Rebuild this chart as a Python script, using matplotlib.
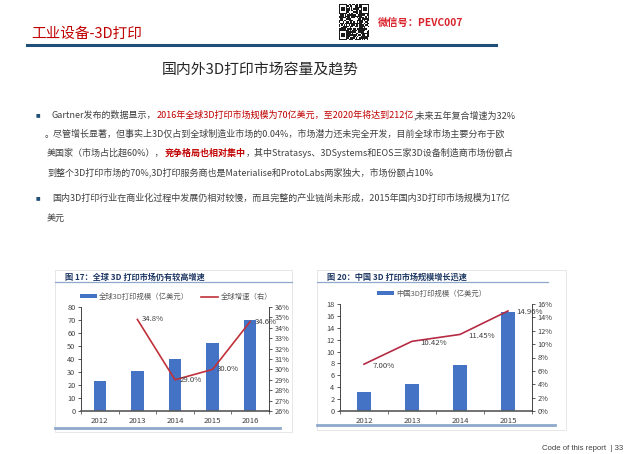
import numpy as np
import matplotlib
matplotlib.use("Agg")
import matplotlib.pyplot as plt
from matplotlib.patches import Rectangle
from matplotlib.lines import Line2D

plt.rcParams['font.family'] = ['Noto Sans CJK SC', 'DejaVu Sans']
FONT = ['Noto Sans CJK SC', 'DejaVu Sans']

# ---- data ----
years_global = ['2012', '2013', '2014', '2015', '2016']
global_size = [23, 31, 40, 52, 70]          # 亿美元
global_growth = [34.8, 29.0, 30.0, 34.6]    # %, 2013-2016
years_cn = ['2012', '2013', '2014', '2015']
cn_size = [3.2, 4.6, 7.7, 16.6]             # 亿美元
cn_rate = [7.00, 10.42, 11.45, 14.96]       # %

BLUE = '#4472C4'
RED = '#C0313A'
GRAY = '#404040'
TXTRED = '#C00000'
NAVY = '#1F3864'

W, H = 640, 454
fig = plt.figure(figsize=(6.4, 4.54), dpi=100)
fig.patch.set_facecolor('white')
renderer = fig.canvas.get_renderer()


def fx(x):
    return x / W


def fy(y):
    return 1 - y / H


def box(x0, y0, x1, y1):
    # pixel box -> [left, bottom, width, height] in figure coords
    return [fx(x0), fy(y1), (x1 - x0) / W, (y1 - y0) / H]


def hline(x0, x1, y, color, lw):
    fig.add_artist(Line2D([fx(x0), fx(x1)], [fy(y), fy(y)], color=color, lw=lw,
                          transform=fig.transFigure))


def rich_line(x, y, parts, size=6.5):
    for s, color, weight in parts:
        t = fig.text(fx(x), fy(y), s, color=color, fontsize=size, fontweight=weight,
                     va='center', ha='left', family=FONT)
        x += t.get_window_extent(renderer).width


# ---- header ----
fig.text(fx(31), fy(34), '工业设备-3D打印', color=TXTRED, fontsize=10.5, va='center', ha='left')
fig.text(fx(378), fy(23), '微信号：PEVC007', color='#D9232D', fontsize=7.4,
         fontweight='bold', va='center', ha='left')
hline(27, 496, 45, '#1F4E79', 2.2)

# qr-like decoration
qax = fig.add_axes(box(339, 4, 369, 40))
n = 25
ii, jj = np.meshgrid(np.arange(n), np.arange(n), indexing='ij')
qr = (((ii * 7 + jj * 13) ^ (ii * jj)) % 3 != 1).astype(float)
for (r, c) in [(0, 0), (0, n - 7), (n - 7, 0)]:
    qr[r:r + 7, c:c + 7] = 1
    qr[r + 1:r + 6, c + 1:c + 6] = 0
    qr[r + 2:r + 5, c + 2:c + 5] = 1
qax.imshow(qr, cmap='Greys', interpolation='nearest', vmin=0, vmax=1.1, aspect='auto')
qax.axis('off')

# ---- slide title ----
fig.text(fx(260), fy(70), '国内外3D打印市场容量及趋势', color='#262626', fontsize=10.7,
         ha='center', va='center')

# ---- bullet text ----
for by in (115, 198):
    fig.text(fx(38), fy(by), '■', fontsize=3.5, color='#1F4E79', ha='center', va='center',
             family='DejaVu Sans')

rich_line(52, 115, [('Gartner发布的数据显示，', GRAY, 'normal'),
                    ('2016年全球3D打印市场规模为70亿美元，至2020年将达到212亿', TXTRED, 'normal'),
                    (',未来五年复合增速为32%', GRAY, 'normal')])
rich_line(45, 134, [('。尽管增长显著，但事实上3D仅占到全球制造业市场的0.04%，市场潜力还未完全开发，目前全球市场主要分布于欧',
                     GRAY, 'normal')])
rich_line(47, 153, [('美国家（市场占比超60%），', GRAY, 'normal'),
                    ('竞争格局也相对集中', TXTRED, 'bold'),
                    ('，其中Stratasys、3DSystems和EOS三家3D设备制造商市场份额占', GRAY, 'normal')])
rich_line(47, 172, [('到整个3D打印市场的70%,3D打印服务商也是Materialise和ProtoLabs两家独大，市场份额占10%',
                     GRAY, 'normal')])
rich_line(52, 198, [('国内3D打印行业在商业化过程中发展仍相对较慢，而且完整的产业链尚未形成，2015年国内3D打印市场规模为17亿',
                     GRAY, 'normal')])
rich_line(47, 218, [('美元', GRAY, 'normal')])


# ---- chart panels ----
def panel(x0, y0, x1, y1, title, uline_end, bottom_y, bottom_end):
    fig.add_artist(Rectangle((fx(x0), fy(y1)), (x1 - x0) / W, (y1 - y0) / H,
                             transform=fig.transFigure, fill=False, ec='#E3E3E3', lw=0.6))
    fig.text(fx(x0 + 10), fy(277), title, color=NAVY, fontsize=5.9, fontweight='bold',
             ha='left', va='center')
    hline(x0, uline_end, 282, '#8EA9CC', 0.9)
    hline(x0, bottom_end, bottom_y, '#8EA9CC', 2.0)


def style_axes(ax, ax2, ncat):
    for a in (ax, ax2):
        a.spines['top'].set_visible(False)
        a.tick_params(axis='y', labelsize=5.3, colors=GRAY, length=2.5, width=0.6, pad=1.5)
    ax.spines['right'].set_visible(False)
    ax2.spines['left'].set_visible(False)
    ax.spines['left'].set_color('#262626')
    ax.spines['left'].set_linewidth(0.6)
    ax2.spines['right'].set_color('#262626')
    ax2.spines['right'].set_linewidth(0.6)
    ax.spines['bottom'].set_color('#595959')
    ax.spines['bottom'].set_linewidth(1.2)
    ax2.spines['bottom'].set_visible(False)
    ax.set_xlim(-0.5, ncat - 0.5)
    ax.set_xticks(np.arange(-0.5, ncat, 1.0), minor=True)
    ax.tick_params(axis='x', which='major', length=0, labelsize=5.6, colors=GRAY, pad=4)
    ax.tick_params(axis='x', which='minor', length=2.5, width=0.6, color='#595959')


panel(55, 270, 292, 432, '图 17：全球 3D 打印市场仍有较高增速', 292, 428, 280)
panel(317, 270, 566, 430, '图 20：中国 3D 打印市场规模增长迅速', 548, 425, 555)

# left chart
ax1 = fig.add_axes(box(81, 307, 269, 411))
x1 = np.arange(len(years_global))
bars1 = ax1.bar(x1, global_size, width=0.33, color=BLUE, zorder=2)
ax1.set_ylim(0, 80)
ax1.set_yticks(np.arange(0, 81, 10))
ax1.set_xticks(x1)
ax1.set_xticklabels(years_global)
ax1b = ax1.twinx()
ax1b.plot(x1[1:], global_growth, color=RED, lw=1.2, zorder=3)
ax1b.set_ylim(26, 36)
ax1b.set_yticks(np.arange(26, 37, 1))
ax1b.set_yticklabels([f'{v}%' for v in range(26, 37)])
for xi, v in zip(x1[1:], global_growth):
    ax1b.annotate(f'{v:.1f}%', (xi, v), xytext=(3, 0), textcoords='offset points',
                  fontsize=5.6, color=GRAY, va='center', ha='left')
style_axes(ax1, ax1b, len(years_global))
leg1 = ax1.legend([bars1, Line2D([], [], color=RED, lw=1.2)],
                  ['全球3D打印规模（亿美元）', '全球增速（右）'],
                  loc='center', bbox_to_anchor=(fx(176), fy(297)), bbox_transform=fig.transFigure,
                  ncol=2, frameon=False, fontsize=5.3, handlelength=2.3, handleheight=0.5,
                  columnspacing=1.6, handletextpad=0.3, borderpad=0)
for t in leg1.get_texts():
    t.set_color('#595959')

# right chart
ax2 = fig.add_axes(box(340, 304, 532, 411))
x2 = np.arange(len(years_cn))
bars2 = ax2.bar(x2, cn_size, width=0.31, color=BLUE, zorder=2)
ax2.set_ylim(0, 18)
ax2.set_yticks(np.arange(0, 19, 2))
ax2.set_xticks(x2)
ax2.set_xticklabels(years_cn)
ax2b = ax2.twinx()
ax2b.plot(x2, cn_rate, color='#B52B44', lw=1.2, zorder=3)
ax2b.set_ylim(0, 16)
ax2b.set_yticks(np.arange(0, 17, 2))
ax2b.set_yticklabels([f'{v}%' for v in range(0, 17, 2)])
for xi, v in zip(x2, cn_rate):
    ax2b.annotate(f'{v:.2f}%', (xi, v), xytext=(6, -1), textcoords='offset points',
                  fontsize=5.6, color=GRAY, va='center', ha='left')
style_axes(ax2, ax2b, len(years_cn))
leg2 = ax2.legend([bars2], ['中国3D打印规模（亿美元）'],
                  loc='center', bbox_to_anchor=(fx(432), fy(294)), bbox_transform=fig.transFigure,
                  frameon=False, fontsize=5.3, handlelength=2.3, handleheight=0.5,
                  handletextpad=0.3, borderpad=0)
for t in leg2.get_texts():
    t.set_color('#595959')

# footer
fig.text(fx(542), fy(448), 'Code of this report  | 33', fontsize=5.6, color='#404040',
         ha='left', va='center', family='Liberation Sans')

fig.savefig('out.png', dpi=100, facecolor='white')
